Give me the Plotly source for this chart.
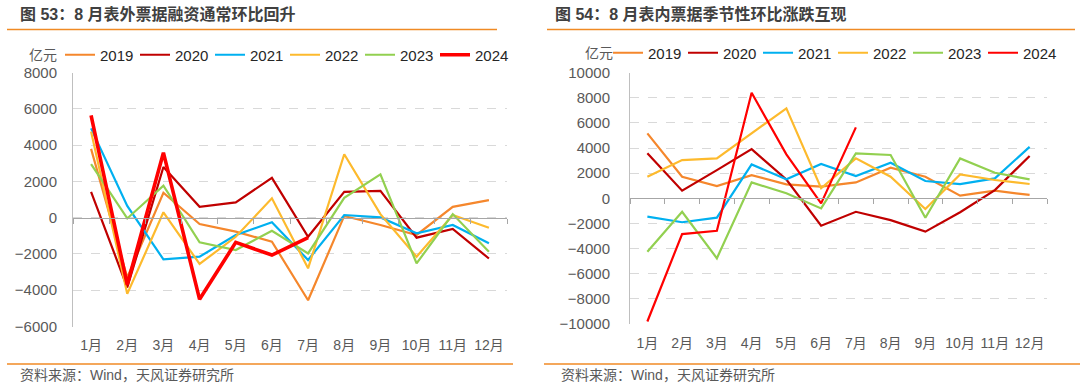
import plotly.graph_objects as go

months = ["1月", "2月", "3月", "4月", "5月", "6月", "7月", "8月", "9月", "10月", "11月", "12月"]
years = ["2019", "2020", "2021", "2022", "2023", "2024"]

# Left: 表外票据融资 (亿元)
left_2019 = [3800, -3300, 1380, -350, -770, -1320, -4550, 100, -400, -950, 600, 970]
left_2020 = [1430, -3850, 2800, 600, 850, 2200, -1050, 1430, 1480, -1100, -620, -2250]
left_2021 = [4930, 650, -2300, -2150, -950, -250, -2330, 150, 20, -860, -400, -1410]
left_2022 = [4750, -4200, 300, -2550, -1050, 1070, -2790, 3500, 200, -2150, 150, -550]
left_2023 = [2960, -40, 1770, -1360, -1780, -720, -1970, 1100, 2390, -2520, 200, -1880]
left_2024 = [5650, -3700, 3590, -4500, -1360, -2060, -1100]

# Right: 表内票据 (亿元)
right_2019 = [5170, 1720, 980, 1850, 1110, 930, 1270, 2440, 1720, 210, 610, 270]
right_2020 = [3580, 610, 2250, 3920, 1500, -2180, -1070, -1730, -2650, -1110, 660, 3370]
right_2021 = [-1460, -1900, -1540, 2700, 1510, 2730, 1770, 2830, 1380, 1140, 1590, 4100]
right_2022 = [1720, 3050, 3180, 5140, 7160, 800, 3180, 1720, -850, 1910, 1460, 1140]
right_2023 = [-4250, -1070, -4770, 1270, 400, -800, 3580, 3450, -1540, 3180, 2040, 1510]
right_2024 = [-9800, -2840, -2580, 8400, 3500, -400, 5650]

colors = ["#F5872C", "#C00000", "#00B0F0", "#FDBA2D", "#92D050", "#FF0000"]
left_series = [left_2019, left_2020, left_2021, left_2022, left_2023, left_2024]
right_series = [right_2019, right_2020, right_2021, right_2022, right_2023, right_2024]
left_widths = [2.2, 2.2, 2.2, 2.2, 2.2, 3.6]
right_widths = [2.2, 2.2, 2.2, 2.2, 2.2, 2.2]

W, H = 1080, 389
FONT = "Liberation Sans, Arial, Noto Sans CJK SC, sans-serif"
GRAY = "#595959"

def px_x(p):
    return p / W

def px_y(p):
    return 1 - p / H

xpos = list(range(len(months)))

fig = go.Figure()
for name, vals, col, w in zip(years, left_series, colors, left_widths):
    fig.add_trace(go.Scatter(x=xpos[:len(vals)], y=vals, mode="lines", name=name,
                             line=dict(color=col, width=w), xaxis="x", yaxis="y",
                             legend="legend", hoverinfo="x+y+name"))
for name, vals, col, w in zip(years, right_series, colors, right_widths):
    fig.add_trace(go.Scatter(x=xpos[:len(vals)], y=vals, mode="lines", name=name,
                             line=dict(color=col, width=w), xaxis="x2", yaxis="y2",
                             legend="legend2", hoverinfo="x+y+name"))
# empty helper traces so the zero-line axes with tick marks are drawn
fig.add_trace(go.Scatter(x=[], y=[], xaxis="x3", yaxis="y", showlegend=False, hoverinfo="skip"))
fig.add_trace(go.Scatter(x=[], y=[], xaxis="x4", yaxis="y2", showlegend=False, hoverinfo="skip"))

# layout geometry (pixels)
L_x0, L_x1 = 73, 507
R_x0, R_x1 = 630, 1047
L_top, L_bot = 72.7, 326.5
R_top, R_bot = 72.7, 324.0
L_range = [-6000, 8000]
R_range = [-10000, 10000]

def zero_pos(top, bot, rng):
    d0, d1 = px_y(bot), px_y(top)
    frac = (0 - rng[0]) / (rng[1] - rng[0])
    return d0 + frac * (d1 - d0)

cat_axis = dict(range=[-0.5, 11.5], tickmode="array", tickvals=xpos, ticktext=months,
                showline=False, showgrid=False, zeroline=False, ticks="outside", ticklen=6,
                tickangle=0, automargin=False,
                tickcolor="rgba(0,0,0,0)", tickfont=dict(size=14, color=GRAY, family=FONT))
val_axis = dict(dtick=2000, tickformat="d", showgrid=True, gridcolor="#d9d9d9", griddash="dash",
                gridwidth=1, zeroline=False, showline=True, linecolor="#bfbfbf", linewidth=1,
                ticks="outside", ticklen=12, tickcolor="rgba(0,0,0,0)", automargin=False,
                tickfont=dict(size=15, color=GRAY, family=FONT))
tick_axis = dict(range=[-0.5, 11.5], tickmode="array", tickvals=[i - 0.5 for i in range(13)],
                 showticklabels=False, ticks="outside", ticklen=5, tickcolor="#a6a6a6",
                 showline=True, linecolor="#a6a6a6", linewidth=1, showgrid=False, zeroline=False,
                 anchor="free", side="bottom", automargin=False)

fig.update_layout(
    width=W, height=H, margin=dict(l=0, r=0, t=0, b=0, autoexpand=False),
    paper_bgcolor="white", plot_bgcolor="white",
    font=dict(family=FONT, color="#262626"),
    xaxis=dict(cat_axis, domain=[px_x(L_x0), px_x(L_x1)], anchor="y"),
    xaxis2=dict(cat_axis, domain=[px_x(R_x0), px_x(R_x1)], anchor="y2"),
    xaxis3=dict(tick_axis, overlaying="x", position=zero_pos(L_top, L_bot, L_range)),
    xaxis4=dict(tick_axis, overlaying="x2", position=zero_pos(R_top, R_bot, R_range)),
    yaxis=dict(val_axis, range=L_range, domain=[px_y(L_bot), px_y(L_top)], anchor="x"),
    yaxis2=dict(val_axis, range=R_range, domain=[px_y(R_bot), px_y(R_top)], anchor="x2",
                ticklen=16),
    legend=dict(orientation="h", x=px_x(60), xanchor="left", y=px_y(55), yanchor="middle",
                font=dict(size=15, color="#262626", family=FONT), bgcolor="rgba(0,0,0,0)",
                entrywidth=30, entrywidthmode="pixels", itemwidth=30, tracegroupgap=0),
    legend2=dict(orientation="h", x=px_x(608), xanchor="left", y=px_y(53), yanchor="middle",
                 font=dict(size=15, color="#262626", family=FONT), bgcolor="rgba(0,0,0,0)",
                 entrywidth=30, entrywidthmode="pixels", itemwidth=30, tracegroupgap=0),
    showlegend=True,
)

annotations = [
    dict(text="<b>图 53：8 月表外票据融资通常环比回升</b>", x=px_x(18), y=px_y(14), xanchor="left",
         yanchor="middle", font=dict(size=16, color="#404040")),
    dict(text="<b>图 54：8 月表内票据季节性环比涨跌互现</b>", x=px_x(553), y=px_y(14), xanchor="left",
         yanchor="middle", font=dict(size=16, color="#404040")),
    dict(text="亿元", x=px_x(27), y=px_y(55), xanchor="left", yanchor="middle",
         font=dict(size=14, color=GRAY)),
    dict(text="亿元", x=px_x(583), y=px_y(53), xanchor="left", yanchor="middle",
         font=dict(size=14, color=GRAY)),
    dict(text="资料来源：Wind，天风证券研究所", x=px_x(18), y=px_y(375), xanchor="left",
         yanchor="middle", font=dict(size=14, color=GRAY)),
    dict(text="资料来源：Wind，天风证券研究所", x=px_x(559), y=px_y(375), xanchor="left",
         yanchor="middle", font=dict(size=14, color=GRAY)),
]
for a in annotations:
    a.update(xref="paper", yref="paper", showarrow=False)
fig.update_layout(annotations=annotations)

line_style = dict(color="#F08A24", width=1.5)
shapes = []
for (x0, x1, yp) in [(7, 497, 29.5), (547, 1075, 29.5), (7, 513, 364), (544, 1080, 364)]:
    shapes.append(dict(type="line", xref="paper", yref="paper", x0=px_x(x0), x1=px_x(x1),
                       y0=px_y(yp), y1=px_y(yp), line=line_style))
fig.update_layout(shapes=shapes)

fig.write_html("out.html", config={"displayModeBar": False},
               post_script="document.body.style.margin='0';document.body.style.padding='0';")
